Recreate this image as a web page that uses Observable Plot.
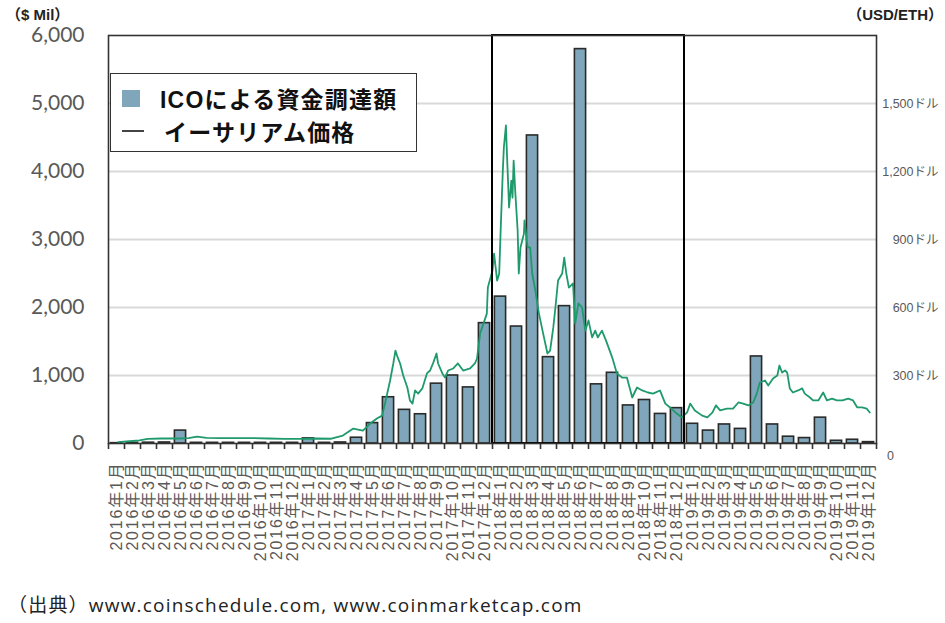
<!DOCTYPE html>
<html>
<head>
<meta charset="utf-8">
<script src="https://cdn.jsdelivr.net/npm/d3@7"></script>
<script src="https://cdn.jsdelivr.net/npm/@observablehq/plot@0.6"></script>
<style>
  html, body { margin: 0; padding: 0; background: #fff; }
  #wrap { position: relative; width: 945px; height: 623px; overflow: hidden; font-family: "Noto Sans CJK JP", "Liberation Sans", sans-serif; }
  #chart { position: absolute; left: 0; top: 0; }
  .unit { position: absolute; top: 3px; font-weight: bold; font-size: 15px; color: #222; font-family: "Liberation Sans", "Noto Sans CJK JP", sans-serif; }
  #legend { position: absolute; left: 110px; top: 73px; width: 305px; height: 77px; background: #fff; border: 1.5px solid #333; }
  .lrow { position: absolute; left: 0; display: flex; align-items: center; font-weight: bold; font-size: 23px; letter-spacing: 1.2px; color: #111; font-family: "Liberation Sans", "Noto Sans CJK JP", sans-serif; }
  .sw { display: inline-block; width: 18px; height: 17px; margin-left: 11px; margin-right: 20px; }
  .ln { display: inline-block; width: 22px; height: 0; border-top: 2px solid #444; margin-left: 11px; margin-right: 20px; }
  #caption { position: absolute; left: 8px; top: 590px; font-size: 19px; letter-spacing: 1.2px; color: #222; font-family: "Open Sans", "Noto Sans CJK JP", sans-serif; }
  svg g[aria-label="x-axis tick label"] text { letter-spacing: 1.8px; }
</style>
</head>
<body>
<div id="wrap">
  <div id="chart"></div>
  <div class="unit" style="left:6px;">（$ Mil）</div>
  <div class="unit" style="right:2px;">（USD/ETH）</div>
  <div id="legend"></div>
  <div id="caption"></div>
</div>
<script>
// ---- data ----
const years = [2016, 2017, 2018, 2019];
const months = [1, 2, 3, 4, 5, 6, 7, 8, 9, 10, 11, 12];
const monthLabels = years.flatMap(y => months.map(m => `${y}年${m}月`));

// ICO funding ($ Mil) per month, 2016/1 .. 2019/12
const icoFunding = [
  5, 10, 12, 15, 190, 10, 10, 10, 10, 10, 10, 10,
  75, 10, 15, 85, 300, 680, 495, 430, 880, 1000, 825, 1770,
  2160, 1720, 4530, 1270, 2020, 5800, 870, 1040, 560, 640, 435, 520,
  290, 190, 280, 215, 1280, 280, 100, 80, 380, 40, 55, 20
];

// Ethereum price (USD/ETH)
const ethDates = [
  "2016-01-20","2016-02-10","2016-02-28","2016-03-15","2016-04-10","2016-05-10","2016-06-01","2016-06-17",
  "2016-07-05","2016-08-01","2016-09-01","2016-10-01","2016-11-01","2016-12-01","2017-01-01","2017-02-01",
  "2017-02-27","2017-03-21","2017-04-10","2017-04-28","2017-05-12","2017-05-25","2017-06-04","2017-06-10",
  "2017-06-19","2017-06-25","2017-06-29","2017-07-02","2017-07-08","2017-07-14","2017-07-22","2017-07-27",
  "2017-08-01","2017-08-06","2017-08-12","2017-08-20","2017-08-29","2017-09-04","2017-09-10","2017-09-16",
  "2017-09-19","2017-09-27","2017-10-02","2017-10-08","2017-10-18","2017-10-27","2017-11-06","2017-11-19",
  "2017-11-28","2017-12-02","2017-12-08","2017-12-21","2017-12-23","2018-01-01","2018-01-04","2018-01-10",
  "2018-01-14","2018-01-17","2018-01-21","2018-01-23","2018-01-27","2018-01-29","2018-02-02","2018-02-06",
  "2018-02-08","2018-02-10","2018-02-13","2018-02-17","2018-02-19","2018-02-22","2018-02-28","2018-03-01",
  "2018-03-07","2018-03-12","2018-03-16","2018-03-22","2018-03-29","2018-04-06","2018-04-14","2018-04-19",
  "2018-04-25","2018-04-29","2018-05-04","2018-05-12","2018-05-16","2018-05-20","2018-05-25","2018-06-02",
  "2018-06-06","2018-06-12","2018-06-19","2018-06-25","2018-07-01","2018-07-08","2018-07-14","2018-07-19",
  "2018-07-27","2018-08-04","2018-08-16","2018-08-25","2018-09-04","2018-09-13","2018-09-23","2018-10-02",
  "2018-10-12","2018-10-23","2018-11-02","2018-11-15","2018-11-25","2018-12-04","2018-12-17","2018-12-27",
  "2019-01-06","2019-01-12","2019-01-21","2019-02-04","2019-02-13","2019-02-22","2019-02-28","2019-03-08",
  "2019-03-21","2019-04-02","2019-04-12","2019-04-21","2019-05-01","2019-05-10","2019-05-17","2019-05-23",
  "2019-06-02","2019-06-08","2019-06-17","2019-06-25","2019-06-29","2019-07-04","2019-07-10","2019-07-14",
  "2019-07-19","2019-07-25","2019-08-04","2019-08-12","2019-08-17","2019-08-27","2019-09-02","2019-09-12",
  "2019-09-21","2019-09-28","2019-10-08","2019-10-17","2019-10-28","2019-11-08","2019-11-17","2019-11-25",
  "2019-12-04","2019-12-13","2019-12-19"
];
const ethPrices = [
  6, 10, 14, 20, 22, 22, 24, 30,
  25, 24, 24, 24, 22, 20, 20, 22,
  21, 35, 66, 57, 88, 110, 123, 182,
  278, 353, 410, 388, 353, 300, 247, 190,
  176, 234, 220, 243, 309, 322, 357, 397,
  353, 309, 291, 322, 331, 353, 322, 331,
  353, 375, 485, 573, 688, 763, 838, 719,
  750, 953, 1204, 1306, 1403, 1279, 1041, 1160,
  1085, 1248, 1103, 940, 750, 865, 926, 984,
  865, 865, 750, 675, 573, 485, 397, 410,
  512, 600, 719, 750, 820, 750, 688, 706,
  529, 618, 600, 498, 543, 468, 498, 468,
  498, 454, 379, 309, 291, 291, 203, 247,
  234, 225, 220, 234, 176, 159, 132, 115,
  137, 176, 146, 123, 115, 137, 168, 146,
  154, 154, 181, 176, 168, 181, 220, 269,
  278, 256, 287, 300, 344, 313, 322, 313,
  243, 225, 234, 243, 220, 203, 190, 190,
  225, 190, 198, 190, 190, 198, 190, 159,
  159, 154, 137
];

const leftTicks = [0, 1000, 2000, 3000, 4000, 5000, 6000];
const gridTicks = [1000, 2000, 3000, 4000, 5000];
const rightTicks = [300, 600, 900, 1200, 1500];
const leftMax = 6000;
const rightMax = 1800;
const highlightMonths = ["2018年1月", "2018年12月"];

const legendItems = ["ICOによる資金調達額", "イーサリアム価格"];
const captionText = "（出典）www.coinschedule.com, www.coinmarketcap.com";

// ---- helpers ----
const barColor = "#7fa6ba";
const lineColor = "#1f9a6c";
const toLeft = v => v * leftMax / rightMax;
function monthPos(s) {
  const [y, m, d] = s.split("-").map(Number);
  const dim = new Date(y, m, 0).getDate();
  return (y - years[0]) * 12 + (m - 1) + (d - 1) / dim;
}
const eth = ethDates.map((d, i) => ({t: monthPos(d), price: ethPrices[i]}));
const bars = icoFunding.map((v, i) => ({i, v}));
const hl = [{a: monthLabels.indexOf(highlightMonths[0]), b: monthLabels.indexOf(highlightMonths[1]) + 1}];
const nMonths = monthLabels.length;

const chart = Plot.plot({
  width: 945,
  height: 580,
  marginLeft: 108,
  marginRight: 69,
  marginTop: 35,
  marginBottom: 137,
  x: {domain: [0, nMonths]},
  y: {domain: [0, leftMax]},
  style: {fontFamily: "'Liberation Sans', 'Noto Sans CJK JP', sans-serif", background: "#fff"},
  marks: [
    Plot.gridY(gridTicks, {stroke: "#d9d9d9", strokeOpacity: 1, strokeWidth: 2}),
    Plot.rectY(bars, {x1: d => d.i, x2: d => d.i + 1, y: d => d.v, insetLeft: 2.4, insetRight: 2.4,
      fill: barColor, stroke: "#2a2a2a", strokeWidth: 1.6}),
    Plot.line(eth, {x: "t", y: d => toLeft(d.price), stroke: lineColor, strokeWidth: 1.8}),
    Plot.rect(hl, {x1: "a", x2: "b", y1: 0, y2: leftMax, fill: "none", stroke: "#000", strokeWidth: 2}),
    Plot.frame({stroke: "#333", strokeWidth: 1.6}),
    Plot.axisY(leftTicks, {tickSize: 0, tickPadding: 24, fontSize: 21, fill: "#595959",
      tickFormat: d3.format(","), fontFamily: "Lato, 'Liberation Sans', sans-serif", label: null}),
    Plot.axisX(d3.range(nMonths + 1), {tickSize: 6, stroke: "#333", strokeWidth: 1.6, tickFormat: () => "", label: null}),
    Plot.axisX(d3.range(nMonths).map(i => i + 0.5), {tickSize: 0, tickRotate: -90, tickPadding: 18,
      tickFormat: d => monthLabels[Math.floor(d)], fontSize: 16, fill: "#595959", label: null}),
    Plot.text(rightTicks, {x: nMonths, y: d => toLeft(d), text: d => d3.format(",")(d) + "ドル",
      textAnchor: "end", dx: 62, fontSize: 12.5, fill: "#595959"}),
    Plot.text([0], {x: nMonths, y: 0, text: d => String(d), dx: 14, dy: 12, fontSize: 12.5, fill: "#595959"})
  ]
});
document.getElementById("chart").appendChild(chart);

// legend
const legend = document.getElementById("legend");
legend.innerHTML =
  `<div class="lrow" style="top:7px;"><span class="sw" style="background:${barColor}"></span>${legendItems[0]}</div>` +
  `<div class="lrow" style="top:40px;"><span class="ln"></span>${legendItems[1]}</div>`;
document.getElementById("caption").textContent = captionText;
</script>
</body>
</html>
